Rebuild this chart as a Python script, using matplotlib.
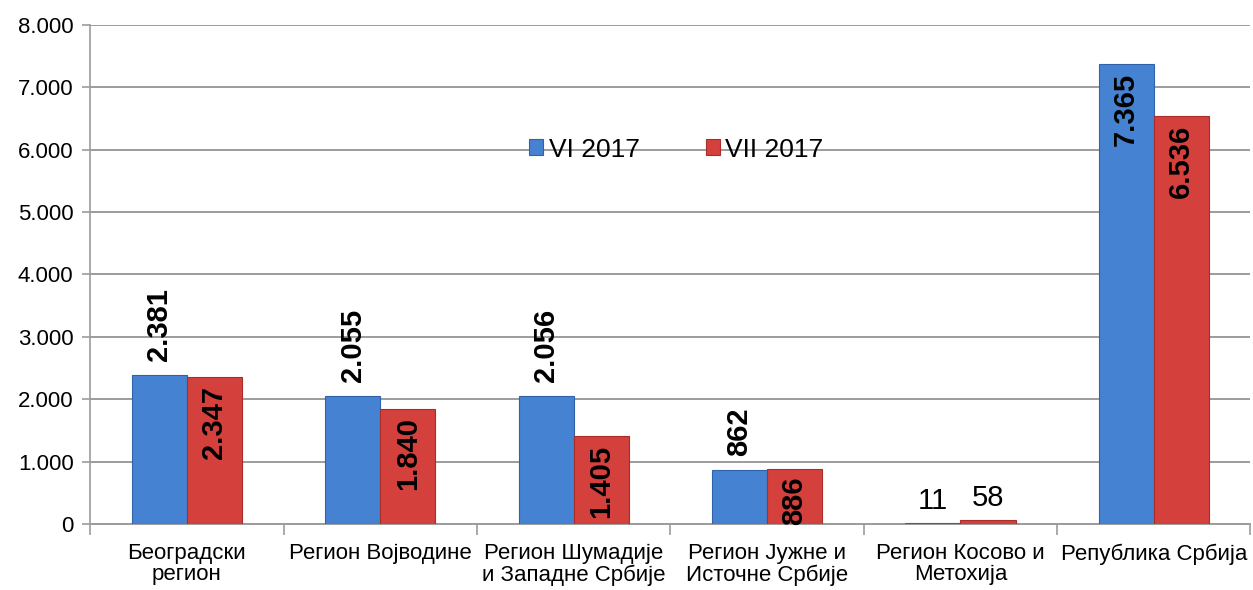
import numpy as np
import matplotlib
matplotlib.use("Agg")
import matplotlib.pyplot as plt

# ============ DATA ============
categories = [
    "Београдски\nрегион",
    "Регион Војводине",
    "Регион Шумадије\nи Западне Србије",
    "Регион Јужне и\nИсточне Србије",
    "Регион Косово и\nМетохија",
    "Република Србија",
]
series_names = ["VI 2017", "VII 2017"]
vi_2017 = [2381, 2055, 2056, 862, 11, 7365]
vii_2017 = [2347, 1840, 1405, 886, 58, 6536]

# label placement per bar: "out" = above, "in" = inside end, "plain" = small horizontal
vi_pos = ["out", "out", "out", "out", "plain", "in"]
vii_pos = ["in", "in", "in", "in", "plain", "in"]

BLUE = "#4682D2"
BLUE_EDGE = "#2F62A8"
RED = "#D4403B"
RED_EDGE = "#A92E2A"
GRID = "#9C9C9C"


def fmt(v):
    return f"{v:,}".replace(",", ".")


def label_bars(ax, bars, values, positions):
    for b, v, p in zip(bars, values, positions):
        x = b.get_x() + b.get_width() / 2
        y = b.get_height()
        if p == "out":
            ax.annotate(fmt(v), (x, y), xytext=(0, 10), textcoords="offset points",
                        rotation=90, ha="center", va="bottom", fontsize=21,
                        fontweight="bold")
        elif p == "in":
            ax.annotate(fmt(v), (x, y), xytext=(0, -6), textcoords="offset points",
                        rotation=90, ha="center", va="top", fontsize=21,
                        fontweight="bold")
        else:
            ax.annotate(fmt(v), (x, y), xytext=(0, 6), textcoords="offset points",
                        ha="center", va="bottom", fontsize=21)


plt.rcParams["font.family"] = ["Liberation Sans", "DejaVu Sans"]

fig = plt.figure(figsize=(12.53, 5.9), dpi=100)
ax = fig.add_axes([0.072, 0.112, 0.926, 0.846])

x = np.arange(len(categories))
w = 0.285
b1 = ax.bar(x - w / 2, vi_2017, w, color=BLUE, edgecolor=BLUE_EDGE, linewidth=0.8,
            label=series_names[0], zorder=3)
b2 = ax.bar(x + w / 2, vii_2017, w, color=RED, edgecolor=RED_EDGE, linewidth=0.8,
            label=series_names[1], zorder=3)

label_bars(ax, b1, vi_2017, vi_pos)
label_bars(ax, b2, vii_2017, vii_pos)

ax.set_xlim(-0.5, len(categories) - 0.5)
ax.set_ylim(0, 8000)
ax.set_yticks(range(0, 8001, 1000))
ax.set_yticklabels([fmt(t) for t in range(0, 8001, 1000)], fontsize=16)
ax.yaxis.grid(True, color=GRID, linewidth=1.4, zorder=0)
ax.set_axisbelow(True)

ax.set_xticks(x)
ax.set_xticklabels(categories, fontsize=16, linespacing=1.0)
ax.tick_params(axis="x", length=0, pad=14)
ax.set_xticks(np.arange(-0.5, len(categories) + 0.5, 1), minor=True)
ax.tick_params(axis="x", which="minor", length=8, color=GRID, width=1.2)
ax.tick_params(axis="y", length=6, color=GRID, width=1.2, pad=6)

for s in ["top", "right"]:
    ax.spines[s].set_visible(False)
ax.spines["left"].set_color(GRID)
ax.spines["bottom"].set_color(GRID)
ax.spines["left"].set_linewidth(1.2)
ax.spines["bottom"].set_linewidth(1.4)

leg = ax.legend(loc="center", bbox_to_anchor=(0.505, 0.75), ncol=2, frameon=False,
                fontsize=19, handlelength=0.55, handleheight=0.55, handletextpad=0.2,
                columnspacing=2.5)

fig.savefig("out.png", dpi=100, facecolor="white")
